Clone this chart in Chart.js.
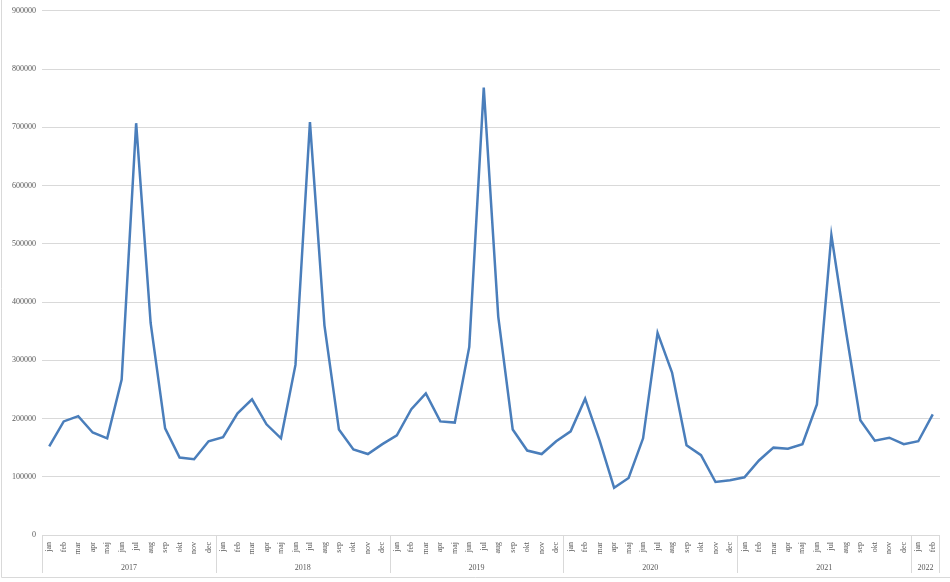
<!DOCTYPE html>
<html>
<head>
<meta charset="utf-8">
<script src="https://cdn.jsdelivr.net/npm/chart.js@4/dist/chart.umd.min.js"></script>
<style>
  body { margin: 0; background: #fff; }
  canvas { display: block; }
</style>
</head>
<body>
<canvas id="chart" width="950" height="582"></canvas>
<script>
// Month names and year groups along the x axis
const months = ['jan', 'feb', 'mar', 'apr', 'maj', 'jun', 'jul', 'aug', 'sep', 'okt', 'nov', 'dec'];
const years = ['2017', '2018', '2019', '2020', '2021', '2022'];

// Monthly values per year
const values2017 = [152000, 195000, 204000, 176000, 166000, 267000, 707000, 364000, 183000, 133000, 130000, 161000];
const values2018 = [168000, 209000, 233000, 190000, 166000, 292000, 709000, 360000, 181000, 147000, 139000, 156000];
const values2019 = [171000, 216000, 243000, 195000, 193000, 323000, 768000, 375000, 181000, 145000, 139000, 161000];
const values2020 = [178000, 234000, 162000, 81000, 98000, 166000, 347000, 279000, 154000, 137000, 91000, 94000];
const values2021 = [99000, 128000, 150000, 148000, 156000, 224000, 515000, 351000, 197000, 162000, 167000, 156000];
const values2022 = [161000, 207000];

const yTicks = [0, 100000, 200000, 300000, 400000, 500000, 600000, 700000, 800000, 900000];

const yearValues = [values2017, values2018, values2019, values2020, values2021, values2022];

// Build category labels and the flat series from the arrays above
const labels = [];
const series = [];
const groups = [];
yearValues.forEach((vals, yi) => {
    const start = labels.length;
    vals.forEach((v, mi) => {
        labels.push(months[mi]);
        series.push(v);
    });
    groups.push({ year: years[yi], start: start, end: labels.length - 1 });
});

const textColor = '#595959';
const gridColor = '#d9d9d9';
const serif = "'Liberation Serif', 'DejaVu Serif', serif";

// Draws the year row, the group separators and the outer frame
const yearGroupPlugin = {
    id: 'yearGroups',
    afterDraw(chart) {
        const ctx = chart.ctx;
        const x = chart.scales.x;
        const area = chart.chartArea;
        const top = area.bottom;
        const bottom = top + 38;
        const step = x.getPixelForValue(1) - x.getPixelForValue(0);

        ctx.save();
        ctx.strokeStyle = gridColor;
        ctx.lineWidth = 1;

        groups.forEach((g, i) => {
            const left = x.getPixelForValue(g.start) - step / 2;
            const right = x.getPixelForValue(g.end) + step / 2;
            ctx.beginPath();
            ctx.moveTo(Math.round(left) + 0.5, top);
            ctx.lineTo(Math.round(left) + 0.5, bottom);
            if (i === groups.length - 1) {
                ctx.moveTo(Math.round(right) - 0.5, top);
                ctx.lineTo(Math.round(right) - 0.5, bottom);
            }
            ctx.stroke();

            ctx.fillStyle = textColor;
            ctx.font = '8px ' + serif;
            ctx.textAlign = 'center';
            ctx.textBaseline = 'middle';
            ctx.fillText(g.year, (left + right) / 2, top + 33);
        });

        // outer frame of the chart object
        ctx.beginPath();
        ctx.moveTo(1.5, 0);
        ctx.lineTo(1.5, 577.5);
        ctx.lineTo(chart.width, 577.5);
        ctx.stroke();
        ctx.restore();
    }
};

new Chart(document.getElementById('chart'), {
    type: 'line',
    data: {
        labels: labels,
        datasets: [{
            data: series,
            borderColor: '#4a7ebb',
            borderWidth: 2.5,
            pointRadius: 0,
            tension: 0,
            fill: false
        }]
    },
    options: {
        responsive: false,
        animation: false,
        layout: {
            padding: { top: 9, right: 10, left: 0, bottom: 0 }
        },
        scales: {
            x: {
                offset: true,
                grid: { display: false, drawTicks: false },
                border: { display: false },
                ticks: {
                    autoSkip: false,
                    minRotation: 90,
                    maxRotation: 90,
                    padding: 7,
                    color: textColor,
                    font: { family: serif, size: 8 }
                },
                afterFit(scale) {
                    scale.height = 47;
                }
            },
            y: {
                min: 0,
                max: 900000,
                afterBuildTicks(scale) {
                    scale.ticks = yTicks.map(v => ({ value: v }));
                },
                grid: { color: gridColor, drawTicks: false },
                border: { display: false },
                ticks: {
                    padding: 6,
                    color: textColor,
                    font: { family: serif, size: 8 },
                    callback: v => String(v)
                },
                afterFit(scale) {
                    scale.width = 42;
                }
            }
        },
        plugins: {
            legend: { display: false },
            tooltip: { enabled: false }
        }
    },
    plugins: [yearGroupPlugin]
});
</script>
</body>
</html>
